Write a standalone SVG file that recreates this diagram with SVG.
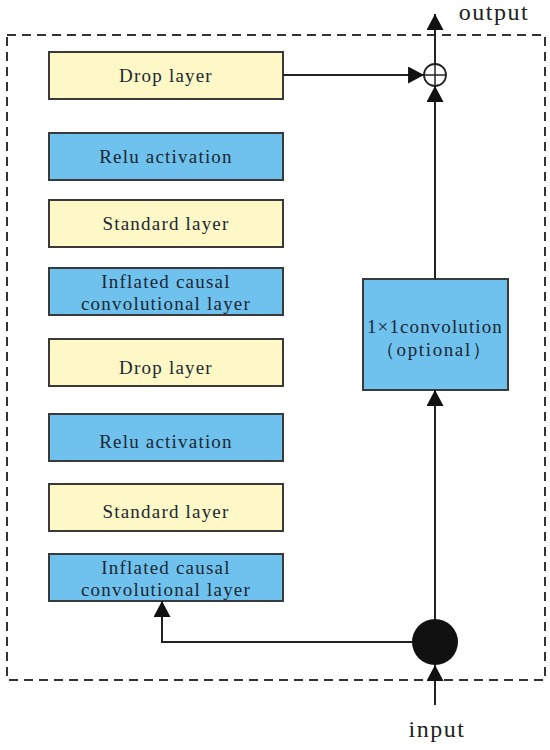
<svg xmlns="http://www.w3.org/2000/svg" width="550" height="750" viewBox="0 0 550 750">
<defs>
<style>
.y{fill:#fdf8c6;stroke:#3a3a3a;stroke-width:2}
.b{fill:#6fc1ee;stroke:#3a3a3a;stroke-width:2}
.t{font-family:"Liberation Serif","Times New Roman",serif;font-size:19px;fill:#1c2833;text-anchor:middle;letter-spacing:1.2px}
.big{font-family:"Liberation Serif","Times New Roman",serif;font-size:24px;fill:#222;text-anchor:middle;letter-spacing:1.5px}
.ln{fill:none;stroke:#222;stroke-width:2}
</style>
<marker id="ah" markerUnits="userSpaceOnUse" markerWidth="17" markerHeight="17" viewBox="0 0 16 16" refX="15" refY="8" orient="auto">
<path d="M0,0 L15,8 L0,16 z" fill="#111"/>
</marker>
</defs>
<rect x="0" y="0" width="550" height="750" fill="#fff"/>
<rect id="frame" x="7" y="35" width="538" height="645" fill="none" stroke="#333" stroke-width="2" stroke-dasharray="9,6"/>

<g id="drop1"><rect class="y" x="49" y="52" width="234" height="47"/><text class="t" x="166" y="82">Drop layer</text></g>
<g id="relu1"><rect class="b" x="49" y="133" width="234" height="47"/><text class="t" x="166" y="163">Relu activation</text></g>
<g id="std1"><rect class="y" x="49" y="200" width="234" height="47"/><text class="t" x="166" y="230">Standard layer</text></g>
<g id="icc1"><rect class="b" x="49" y="268" width="234" height="47"/><text class="t" x="166" y="288">Inflated causal</text><text class="t" x="166" y="310">convolutional layer</text></g>
<g id="drop2"><rect class="y" x="49" y="339" width="234" height="47"/><text class="t" x="166" y="374">Drop layer</text></g>
<g id="relu2"><rect class="b" x="49" y="414" width="234" height="47"/><text class="t" x="166" y="448">Relu activation</text></g>
<g id="std2"><rect class="y" x="49" y="484" width="234" height="47"/><text class="t" x="166" y="518">Standard layer</text></g>
<g id="icc2"><rect class="b" x="49" y="554" width="234" height="47"/><text class="t" x="166" y="574">Inflated causal</text><text class="t" x="166" y="596">convolutional layer</text></g>

<g id="conv1x1"><rect class="b" x="363" y="279" width="145" height="111"/><text class="t" x="435" y="333" textLength="136" lengthAdjust="spacing">1×1convolution</text><text class="t" x="434" y="356" textLength="116" lengthAdjust="spacing">（optional）</text></g>

<g id="add"><circle cx="435" cy="75" r="11" fill="#fff" stroke="#222" stroke-width="1.8"/><line x1="424" y1="75" x2="446" y2="75" stroke="#222" stroke-width="1.5"/><line x1="435" y1="64" x2="435" y2="86" stroke="#222" stroke-width="1.5"/></g>
<g id="split"><circle cx="435" cy="642" r="23" fill="#111"/></g>

<g id="connectors">
<line class="ln" x1="283" y1="75" x2="424" y2="75" marker-end="url(#ah)"/>
<line class="ln" x1="435" y1="64" x2="435" y2="14" marker-end="url(#ah)"/>
<line class="ln" x1="435" y1="279" x2="435" y2="86" marker-end="url(#ah)"/>
<line class="ln" x1="435" y1="619" x2="435" y2="390" marker-end="url(#ah)"/>
<path class="ln" d="M412,642 H162 V601" marker-end="url(#ah)"/>
<line class="ln" x1="435" y1="705" x2="435" y2="665" marker-end="url(#ah)"/>
</g>

<text class="big" x="494" y="20">output</text>
<text class="big" x="437" y="737">input</text>
</svg>
